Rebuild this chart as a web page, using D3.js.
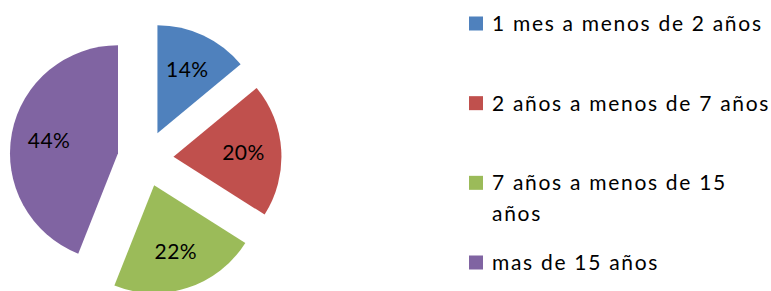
<!DOCTYPE html>
<html>
<head>
<meta charset="utf-8">
<script src="https://cdn.jsdelivr.net/npm/d3@7"></script>
<style>
  body { margin: 0; background: #fff; }
  text { font-family: Lato, "Open Sans", sans-serif; fill: #000; }
</style>
</head>
<body>
<div id="chart"></div>
<script>
// data
var categories = ["1 mes a menos de 2 años", "2 años a menos de 7 años", "7 años a menos de 15 años", "mas de 15 años"];
var values = [14, 20, 22, 44];
var colors = ["#4F81BD", "#C0504D", "#9BBB59", "#8064A2"];
// how the legend wraps its labels in the picture
var legendLines = [["1 mes a menos de 2 años"], ["2 años a menos de 7 años"], ["7 años a menos de 15", "años"], ["mas de 15 años"]];

var width = 771, height = 291;
var cx = 145.5, cy = 158.5;
var radius = 108;
var explode = 28;

var svg = d3.select("#chart").append("svg")
  .attr("width", width)
  .attr("height", height);

var pie = d3.pie().sort(null).value(function(d) { return d; });
var arc = d3.arc().innerRadius(0).outerRadius(radius);
var labelArc = d3.arc().innerRadius(radius * 0.65).outerRadius(radius * 0.65);

var slices = svg.append("g")
  .attr("transform", "translate(" + cx + "," + cy + ")")
  .selectAll("g")
  .data(pie(values))
  .enter()
  .append("g")
  .attr("transform", function(d) {
    var a = (d.startAngle + d.endAngle) / 2;
    return "translate(" + (explode * Math.sin(a)) + "," + (-explode * Math.cos(a)) + ")";
  });

slices.append("path")
  .attr("d", arc)
  .attr("fill", function(d, i) { return colors[i]; });

slices.append("text")
  .attr("transform", function(d) { return "translate(" + labelArc.centroid(d) + ")"; })
  .attr("text-anchor", "middle")
  .attr("dy", "0.36em")
  .style("font-size", "21px")
  .style("letter-spacing", "0.5px")
  .text(function(d) { return d.value + "%"; });

// legend
var legend = svg.append("g").attr("transform", "translate(469,0)");
var legendY = d3.scaleLinear().domain([0, 3]).range([31, 270]);

var items = legend.selectAll("g")
  .data(categories)
  .enter()
  .append("g")
  .attr("transform", function(d, i) { return "translate(0," + legendY(i) + ")"; });

items.append("rect")
  .attr("x", 0)
  .attr("y", -14.5)
  .attr("width", 14)
  .attr("height", 14)
  .attr("fill", function(d, i) { return colors[i]; });

items.each(function(d, i) {
  var g = d3.select(this);
  legendLines[i].forEach(function(line, j) {
    g.append("text")
      .attr("x", 23)
      .attr("y", j * 31)
      .style("font-size", "21px")
      .style("letter-spacing", "1.7px")
      .text(line);
  });
});
</script>
</body>
</html>
